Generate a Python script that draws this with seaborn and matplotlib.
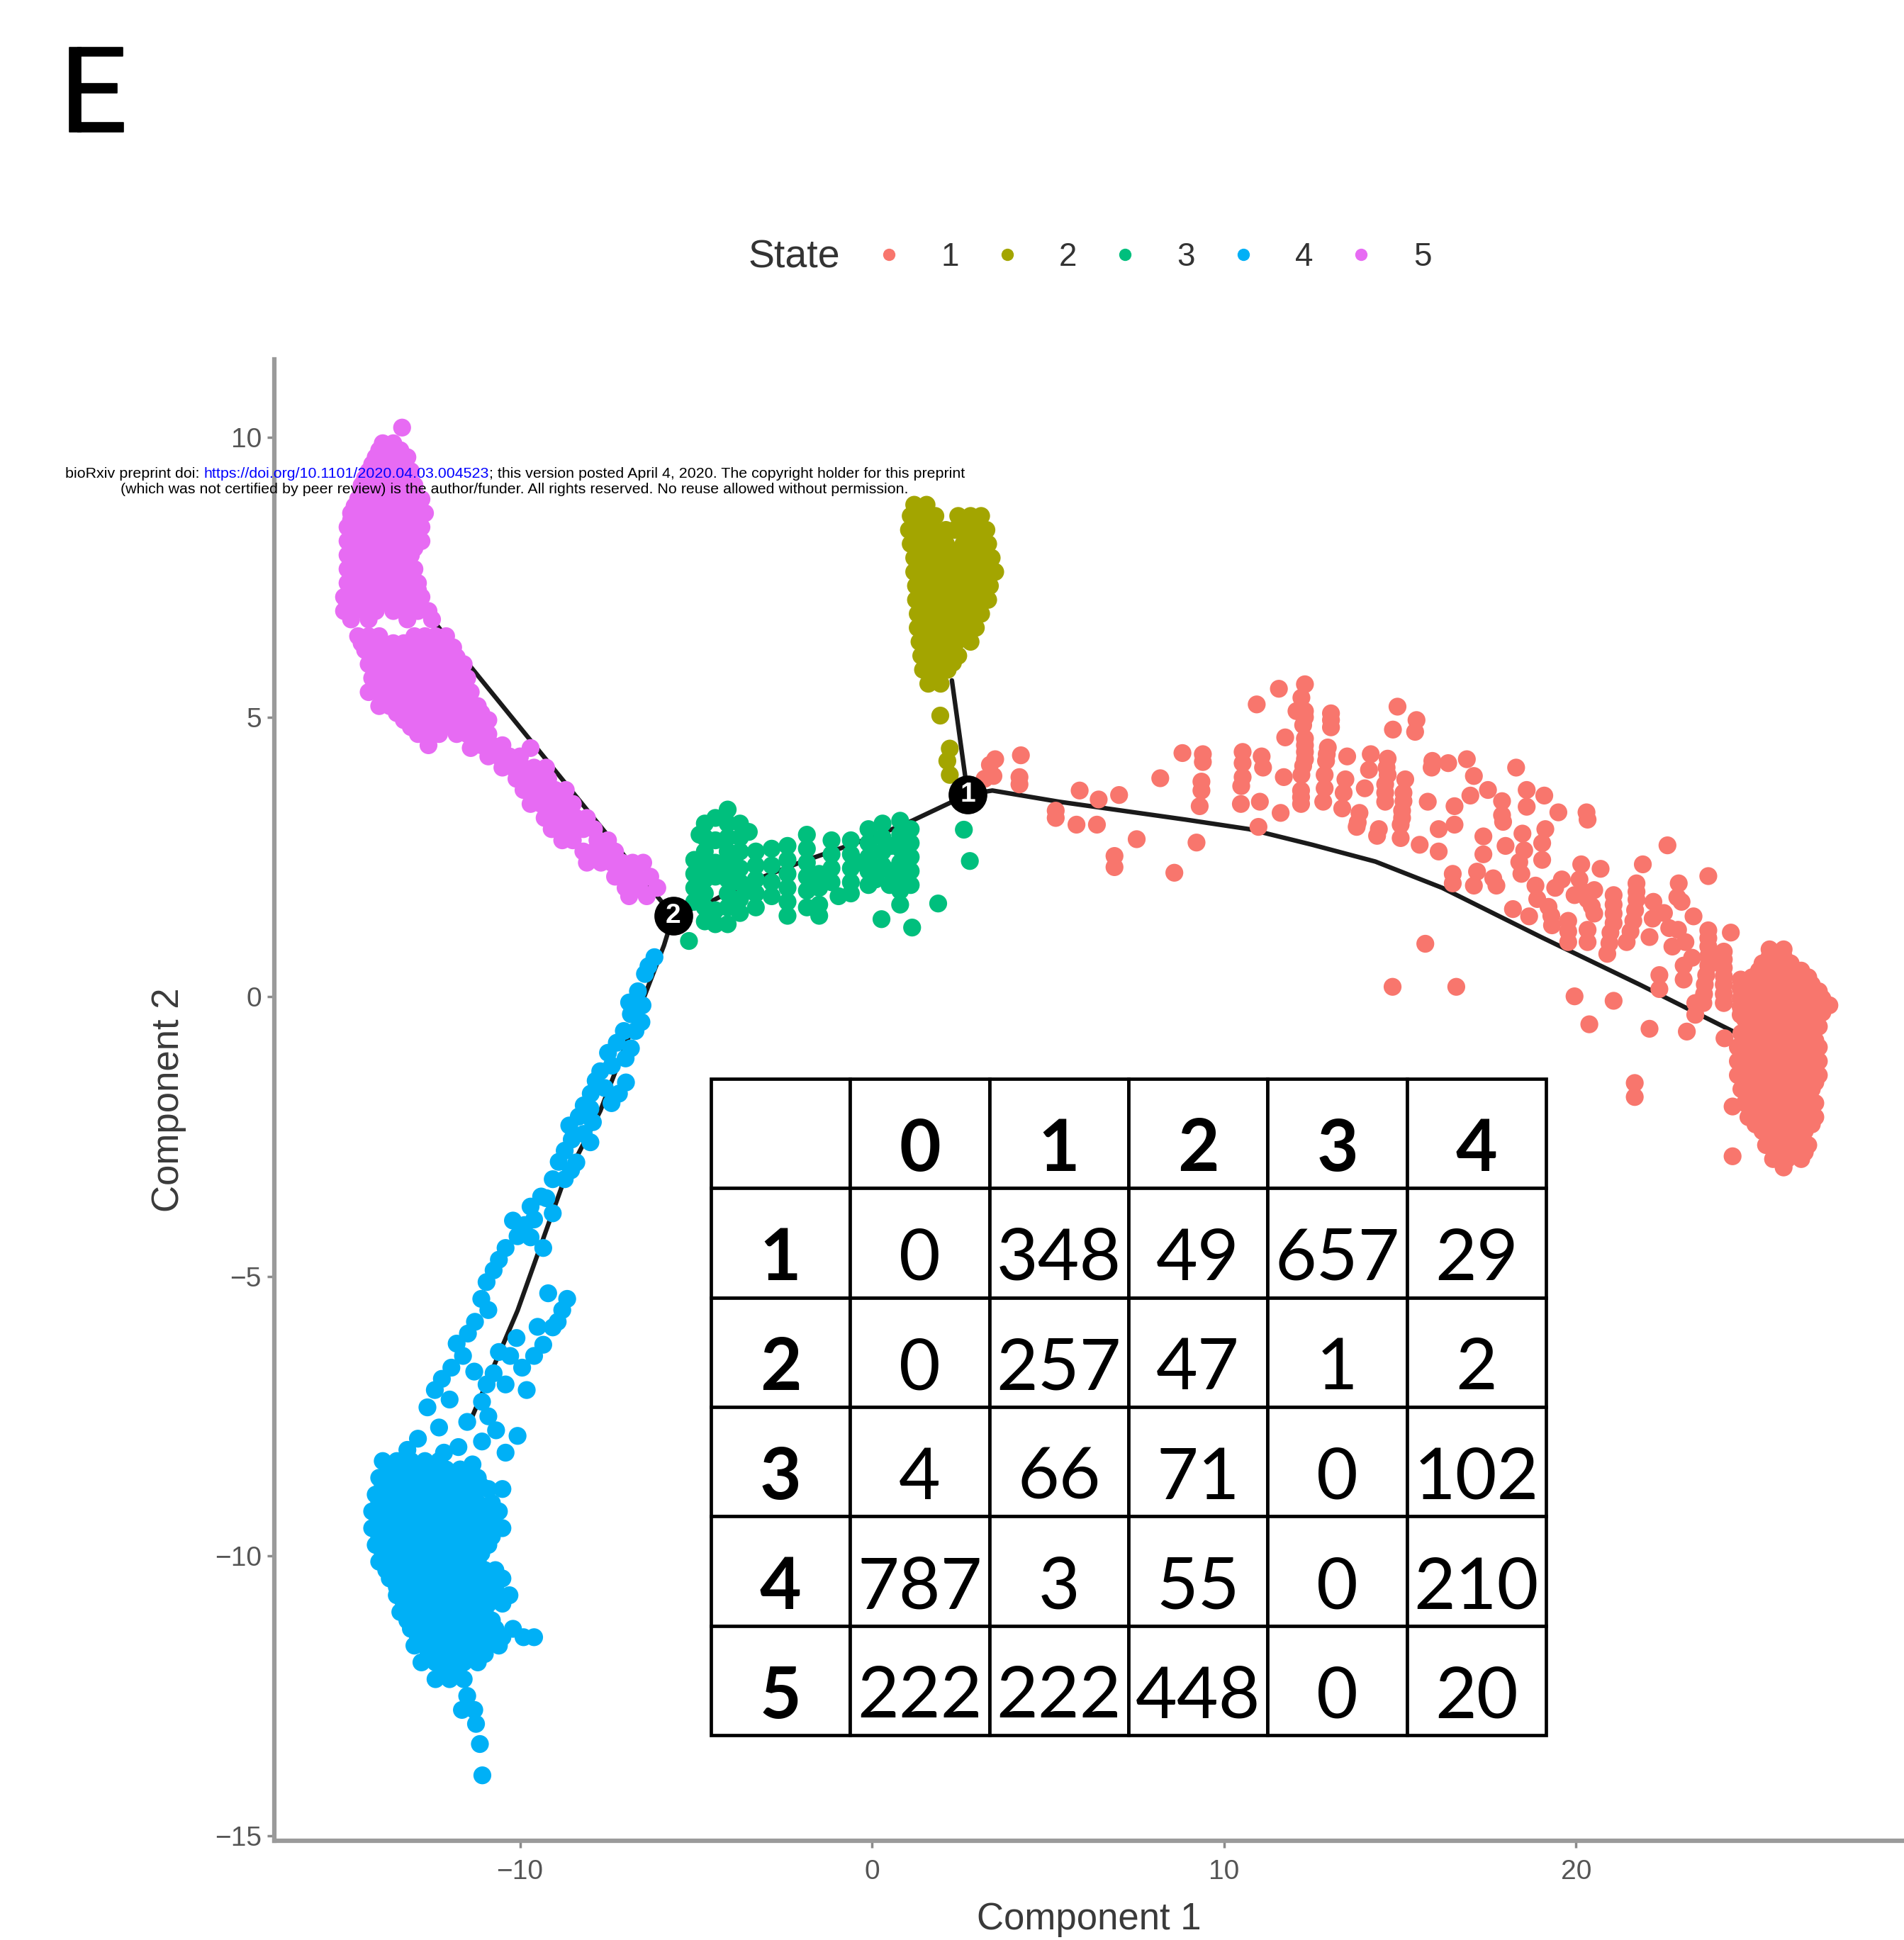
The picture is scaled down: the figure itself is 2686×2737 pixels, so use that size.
import matplotlib
matplotlib.use("Agg")
import matplotlib.pyplot as plt
from matplotlib.lines import Line2D
from matplotlib.transforms import Affine2D
import matplotlib.patheffects as pe
import pandas as pd
import seaborn as sns

# ------------------------------------------------------------------ data
state_labels = ["1", "2", "3", "4", "5"]
state_colors = ["#F8766D", "#A3A500", "#00BF7D", "#00B0F6", "#E76BF3"]

state1_xy = [
    (3.2, 3.9), (3.35, 4.15), (3.5, 4.25), (3.45, 3.95),
    (4.23, 4.32), (4.19, 3.93), (4.19, 3.8), (5.22, 3.33), (5.22, 3.2),
    (5.9, 3.69), (6.44, 3.53), (7.02, 3.61), (5.81, 3.08), (6.39, 3.08),
    (7.52, 2.82), (6.89, 2.52), (6.89, 2.32), (8.59, 2.22), (8.19, 3.91),
    (8.82, 4.36), (9.40, 4.34), (9.40, 4.2), (9.36, 3.85), (9.36, 3.69),
    (9.31, 3.41), (9.22, 2.76), (10.53, 4.38), (10.53, 4.18), (10.53, 3.93),
    (10.49, 3.77), (10.48, 3.45), (11.07, 4.30), (11.11, 4.10), (11.02, 3.49),
    (10.98, 3.04), (10.93, 5.23), (11.56, 5.51), (11.7, 3.93), (11.61, 3.29),
    (11.74, 4.64), (12.3, 5.59), (12.2, 5.35), (12.3, 5.11), (12.25, 4.86),
    (12.3, 4.62), (12.3, 4.38), (12.25, 4.13), (12.2, 3.97), (12.06, 5.11),
    (12.19, 3.69), (12.19, 3.45), (13.04, 5.07), (13.04, 4.82), (12.95, 4.46),
    (12.9, 4.22), (12.86, 3.97), (12.86, 3.73), (12.82, 3.49), (13.5, 4.30),
    (13.45, 3.89), (13.4, 3.65), (13.36, 3.37), (14.17, 4.34), (14.12, 4.06),
    (14.0, 3.73), (13.85, 3.29), (13.8, 3.12), (14.65, 4.26), (14.65, 3.97),
    (14.58, 3.65), (14.58, 3.49), (14.4, 3.0), (14.35, 2.88), (14.93, 5.19),
    (14.8, 4.78), (15.47, 4.95), (15.43, 4.74), (15.15, 3.89), (15.1, 3.65),
    (15.06, 3.33), (15.02, 3.08), (15.02, 2.84), (15.79, 3.49), (15.56, 2.72),
    (15.92, 4.22), (15.9, 4.1), (16.37, 4.18), (16.1, 3.0), (16.1, 2.6),
    (16.55, 3.41), (16.55, 3.08), (16.5, 2.2), (16.5, 2.03),
    (15.72, 0.95), (14.79, 0.18), (16.6, 0.18),
    (16.9, 4.25), (17.1, 3.95), (17.0, 3.6), (17.5, 3.7), (17.9, 3.5),
    (17.9, 3.25), (18.3, 4.1), (18.6, 3.7), (18.6, 3.4), (19.1, 3.6),
    (19.5, 3.3), (20.3, 3.3),
    (13.77, 3.04), (17.37, 2.87), (17.93, 3.13), (18.48, 2.92), (18.53, 2.62),
    (18.39, 2.41), (19.04, 2.75), (19.04, 2.45), (19.13, 3.0), (20.33, 3.17),
    (22.6, 2.71), (20.15, 2.37), (20.7, 2.29), (21.9, 2.37), (23.76, 2.16),
    (17.19, 2.24), (17.1, 1.99), (17.65, 2.12), (17.74, 1.99),
    (18.85, 1.99), (19.41, 1.95), (19.96, 1.82), (20.52, 1.91),
    (18.21, 1.57), (18.67, 1.44), (19.22, 1.61), (19.32, 1.28), (19.78, 1.36),
    (19.78, 0.98), (20.33, 1.74), (20.52, 1.49), (20.33, 0.98),
    (21.07, 1.82), (21.07, 1.49), (20.98, 1.15), (20.89, 0.77),
    (21.72, 2.03), (21.72, 1.74), (21.63, 1.36), (21.44, 0.98),
    (22.18, 1.40), (22.09, 1.07), (22.65, 1.23), (22.74, 0.9), (23.11, 0.98),
    (22.92, 2.03), (22.88, 1.78), (23.34, 1.44),
    (23.76, 1.19), (23.76, 0.9), (23.76, 0.56), (23.66, 0.22), (23.62, -0.11),
    (24.2, 0.81), (24.2, 0.52), (24.2, 0.22), (24.2, -0.11), (24.4, 1.15),
    (23.06, 0.56), (23.06, 0.31), (22.37, 0.39), (22.37, 0.14),
    (23.39, -0.11), (23.39, -0.32), (24.68, 0.31), (24.68, -0.03), (24.68, -0.32),
    (24.22, -0.74), (23.15, -0.62), (22.09, -0.57), (21.07, -0.07), (19.96, 0.01),
    (20.38, -0.49), (21.67, -1.54), (21.67, -1.79), (24.45, -1.96), (24.45, -2.85),
    # fill inside the stripes of the arc
    (21.07, 1.65), (21.07, 1.32), (20.95, 0.96), (21.72, 1.88), (21.68, 1.55),
    (21.55, 1.17), (23.76, 1.05), (23.76, 0.73), (23.7, 0.39), (23.64, 0.05),
    (24.2, 0.67), (24.2, 0.37), (24.2, 0.05), (24.68, 0.15), (24.68, -0.18),
    (20.33, 1.86), (20.45, 1.62), (20.33, 1.2), (19.78, 1.17), (19.3, 1.45),
    (17.37, 2.55), (18.0, 2.7), (18.45, 2.2), (18.9, 1.75), (19.6, 2.1),
    (20.1, 2.1), (22.2, 1.7), (22.5, 1.5), (22.9, 1.2), (23.3, 0.7), (23.0, 1.7),
    (12.3, 5.0), (12.3, 4.5), (12.3, 4.25), (13.04, 4.95), (12.92, 4.34),
    (14.62, 4.1), (14.58, 3.8), (15.1, 3.5), (15.06, 3.2), (12.19, 3.57),
    # dense end cluster
    (25.5, 0.85), (25.9, 0.85),
    (25.3, 0.6), (25.7, 0.6), (26.1, 0.6),
    (25.0, 0.35), (25.4, 0.35), (25.8, 0.35), (26.2, 0.35), (26.6, 0.35),
    (24.9, 0.1), (25.3, 0.1), (25.7, 0.1), (26.1, 0.1), (26.5, 0.1), (26.9, 0.1),
    (24.8, -0.15), (25.2, -0.15), (25.6, -0.15), (26.0, -0.15), (26.4, -0.15), (26.8, -0.15), (27.2, -0.15),
    (24.8, -0.4), (25.2, -0.4), (25.6, -0.4), (26.0, -0.4), (26.4, -0.4), (26.8, -0.4),
    (24.7, -0.65), (25.1, -0.65), (25.5, -0.65), (25.9, -0.65), (26.3, -0.65), (26.7, -0.65),
    (24.6, -0.9), (25.0, -0.9), (25.4, -0.9), (25.8, -0.9), (26.2, -0.9), (26.6, -0.9), (26.9, -0.9),
    (24.6, -1.15), (25.0, -1.15), (25.4, -1.15), (25.8, -1.15), (26.2, -1.15), (26.6, -1.15), (26.9, -1.15),
    (24.6, -1.4), (25.0, -1.4), (25.4, -1.4), (25.8, -1.4), (26.2, -1.4), (26.6, -1.4), (26.9, -1.4),
    (24.7, -1.65), (25.1, -1.65), (25.5, -1.65), (25.9, -1.65), (26.3, -1.65), (26.7, -1.65),
    (24.8, -1.9), (25.2, -1.9), (25.6, -1.9), (26.0, -1.9), (26.4, -1.9), (26.8, -1.9),
    (24.9, -2.15), (25.3, -2.15), (25.7, -2.15), (26.1, -2.15), (26.5, -2.15), (26.8, -2.15),
    (25.3, -2.4), (25.7, -2.4), (26.1, -2.4), (26.5, -2.4),
    (25.4, -2.65), (25.8, -2.65), (26.2, -2.65), (26.6, -2.65),
    (25.6, -2.9), (26.0, -2.9), (26.4, -2.9), (25.9, -3.05),
    (25.5, 0.72), (25.9, 0.72),
    (25.2, 0.47), (25.6, 0.47), (26.0, 0.47), (26.4, 0.47),
    (25.1, 0.22), (25.5, 0.22), (25.9, 0.22), (26.3, 0.22), (26.7, 0.22),
    (25.0, -0.03), (25.4, -0.03), (25.8, -0.03), (26.2, -0.03), (26.6, -0.03), (27.0, -0.03),
    (25.0, -0.28), (25.4, -0.28), (25.8, -0.28), (26.2, -0.28), (26.6, -0.28), (27.0, -0.28),
    (24.9, -0.53), (25.3, -0.53), (25.7, -0.53), (26.1, -0.53), (26.5, -0.53), (26.9, -0.53),
    (24.8, -0.78), (25.2, -0.78), (25.6, -0.78), (26.0, -0.78), (26.4, -0.78), (26.8, -0.78),
    (24.8, -1.03), (25.2, -1.03), (25.6, -1.03), (26.0, -1.03), (26.4, -1.03), (26.8, -1.03),
    (24.8, -1.28), (25.2, -1.28), (25.6, -1.28), (26.0, -1.28), (26.4, -1.28), (26.8, -1.28),
    (24.8, -1.53), (25.2, -1.53), (25.6, -1.53), (26.0, -1.53), (26.4, -1.53), (26.8, -1.53),
    (24.9, -1.78), (25.3, -1.78), (25.7, -1.78), (26.1, -1.78), (26.5, -1.78),
    (25.0, -2.03), (25.4, -2.03), (25.8, -2.03), (26.2, -2.03), (26.6, -2.03),
    (25.1, -2.28), (25.5, -2.28), (25.9, -2.28), (26.3, -2.28), (26.7, -2.28),
    (25.5, -2.53), (25.9, -2.53), (26.3, -2.53),
    (25.7, -2.78), (26.1, -2.78), (26.5, -2.78),
]

state2_xy = [
    (1.2, 8.8), (1.55, 8.8),
    (1.1, 8.6), (1.45, 8.6), (1.8, 8.6), (2.45, 8.6), (2.8, 8.6), (3.1, 8.6),
    (1.05, 8.35), (1.4, 8.35), (1.75, 8.35), (2.1, 8.35), (2.35, 8.35), (2.95, 8.35), (3.25, 8.35),
    (1.1, 8.1), (1.45, 8.1), (1.8, 8.1), (2.1, 8.1), (2.6, 8.1), (2.9, 8.1), (3.3, 8.1),
    (1.2, 7.85), (1.5, 7.85), (1.85, 7.85), (2.2, 7.85), (2.5, 7.85), (2.8, 7.85), (3.15, 7.85), (3.4, 7.85),
    (1.2, 7.6), (1.55, 7.6), (1.9, 7.6), (2.25, 7.6), (2.6, 7.6), (2.95, 7.6), (3.3, 7.6), (3.5, 7.6),
    (1.25, 7.35), (1.6, 7.35), (1.95, 7.35), (2.3, 7.35), (2.65, 7.35), (3.0, 7.35), (3.35, 7.35),
    (1.25, 7.1), (1.6, 7.1), (1.95, 7.1), (2.3, 7.1), (2.65, 7.1), (3.0, 7.1), (3.3, 7.1),
    (1.3, 6.85), (1.65, 6.85), (2.0, 6.85), (2.35, 6.85), (2.7, 6.85), (3.1, 6.85),
    (1.3, 6.6), (1.65, 6.6), (2.0, 6.6), (2.35, 6.6), (2.7, 6.6), (2.95, 6.6),
    (1.35, 6.35), (1.7, 6.35), (2.05, 6.35), (2.4, 6.35), (2.8, 6.35),
    (1.4, 6.1), (1.75, 6.1), (2.1, 6.1), (2.45, 6.1),
    (1.45, 5.85), (1.8, 5.85), (2.15, 5.85),
    (1.6, 5.6), (1.95, 5.6),
    (1.94, 5.03), (2.21, 4.44), (2.14, 4.22), (2.21, 3.97),
    (1.25, 8.475), (1.6, 8.475), (2.6, 8.475), (2.95, 8.475),
    (1.25, 8.225), (1.6, 8.225), (1.95, 8.225), (2.75, 8.225), (3.1, 8.225),
    (1.3, 7.975), (1.65, 7.975), (2.0, 7.975), (2.35, 7.975), (2.75, 7.975), (3.1, 7.975),
    (1.35, 7.725), (1.7, 7.725), (2.05, 7.725), (2.4, 7.725), (2.7, 7.725), (3.0, 7.725), (3.3, 7.725),
    (1.4, 7.475), (1.75, 7.475), (2.1, 7.475), (2.45, 7.475), (2.8, 7.475), (3.15, 7.475),
    (1.4, 7.225), (1.75, 7.225), (2.1, 7.225), (2.45, 7.225), (2.8, 7.225), (3.15, 7.225),
    (1.45, 6.975), (1.8, 6.975), (2.15, 6.975), (2.5, 6.975), (2.9, 6.975),
    (1.45, 6.725), (1.8, 6.725), (2.15, 6.725), (2.5, 6.725), (2.85, 6.725),
    (1.5, 6.475), (1.85, 6.475), (2.2, 6.475), (2.6, 6.475),
    (1.55, 6.225), (1.9, 6.225), (2.25, 6.225),
    (1.6, 5.975), (1.95, 5.975), (2.3, 5.975), (1.75, 5.725),
]

state3_xy = [
    (-5.2, 1.0),
    (-5.05, 2.45), (-5.05, 2.2), (-5.05, 1.95), (-5.05, 1.7),
    (-4.75, 3.1), (-4.75, 2.85), (-4.75, 2.6), (-4.75, 2.35), (-4.75, 2.1),
    (-4.75, 1.85), (-4.75, 1.6), (-4.75, 1.35),
    (-4.45, 2.4), (-4.45, 2.15), (-4.45, 1.55), (-4.45, 1.3),
    (-4.1, 3.35), (-4.1, 3.1), (-4.1, 2.85), (-4.1, 2.6), (-4.1, 2.35),
    (-4.1, 2.1), (-4.1, 1.85), (-4.1, 1.6), (-4.1, 1.3),
    (-3.75, 3.1), (-3.75, 2.85), (-3.75, 2.6), (-3.75, 2.3), (-3.75, 2.05),
    (-3.75, 1.75), (-3.75, 1.5),
    (-3.3, 2.6), (-3.3, 2.35), (-3.3, 2.1), (-3.3, 1.85), (-3.3, 1.6),
    (-2.85, 2.65), (-2.85, 2.35), (-2.85, 2.05), (-2.85, 1.8),
    (-2.4, 2.7), (-2.4, 2.45), (-2.4, 2.2), (-2.4, 1.95), (-2.4, 1.7), (-2.4, 1.45),
    (-1.85, 2.9), (-1.85, 2.65), (-1.85, 2.4), (-1.85, 2.15), (-1.85, 1.9), (-1.85, 1.6),
    (-1.5, 2.2), (-1.5, 1.95), (-1.5, 1.65), (-1.5, 1.45),
    (-1.15, 2.8), (-1.15, 2.55), (-1.15, 2.3), (-1.15, 2.05), (-0.95, 1.8),
    (-0.6, 2.8), (-0.6, 2.55), (-0.6, 2.3), (-0.6, 2.05), (-0.6, 1.85),
    (-0.1, 3.0), (-0.1, 2.75), (-0.1, 2.5), (-0.1, 2.25), (-0.1, 2.0),
    (0.3, 3.1), (0.3, 2.85), (0.3, 2.6), (0.3, 2.35), (0.5, 2.25), (0.5, 2.0),
    (0.8, 3.15), (0.8, 2.9), (0.8, 2.65), (0.8, 2.4), (0.8, 2.15), (0.8, 1.9), (0.8, 1.65),
    (1.1, 3.0), (1.1, 2.75), (1.1, 2.5), (1.1, 2.25), (1.1, 2.0),
    (2.61, 2.99), (2.78, 2.43), (1.88, 1.67), (0.27, 1.39), (1.14, 1.24),
    (-4.9, 2.9), (-4.45, 3.2), (-4.45, 2.8), (-3.95, 2.45), (-3.5, 2.95),
    (-3.5, 1.9), (-0.3, 2.4), (0.1, 2.1), (0.55, 2.7), (0.95, 2.2),
]

state4_xy = [
    (-6.18, 0.71), (-6.45, 0.41), (-6.65, 0.10), (-6.52, -0.15), (-6.85, -0.31),
    (-7.05, -0.61), (-6.72, -0.61), (-7.25, -0.82), (-6.85, -0.92), (-7.39, -1.23),
    (-6.99, -1.53), (-7.19, -1.73), (-7.72, -1.33), (-7.99, -1.73), (-8.19, -1.94),
    (-7.59, -1.63), (-8.33, -2.14), (-7.93, -2.24), (-8.53, -2.55), (-8.73, -2.75),
    (-8.19, -2.45), (-8.40, -2.96), (-8.73, -3.26), (-9.07, -3.26), (-9.40, -3.57),
    (-9.6, -3.98), (-9.87, -4.08), (-10.07, -4.28), (-10.41, -4.49), (-10.75, -4.89),
    (-10.95, -5.1), (-9.07, -3.87), (-9.34, -4.49), (-11.28, -5.81), (-11.48, -6.02),
    (-8.66, -5.4), (-8.93, -5.81), (-9.2, -5.3), (-9.07, -5.91), (-9.34, -6.22),
    (-9.6, -6.42), (-9.94, -6.63), (-10.28, -6.42), (-9.81, -7.03), (-10.41, -6.93),
    (-10.75, -6.73), (-10.95, -6.93), (-11.08, -7.24), (-11.62, -6.42), (-11.95, -6.63),
    (-12.22, -6.83), (-12.42, -7.03), (-12.63, -7.34), (-10.68, -7.75), (-10.07, -7.85),
    (-10.41, -8.15), (-11.08, -7.95), (-11.35, -8.36), (-11.75, -8.05), (-12.16, -8.15),
    (-12.42, -8.46), (-12.69, -8.56), (-13.1, -8.36), (-13.43, -8.56),
    (-6.35, 0.55), (-6.9, -0.1), (-6.55, -0.45), (-7.5, -1.0), (-7.0, -1.1),
    (-7.85, -1.5), (-7.4, -1.9), (-8.0, -2.0), (-8.6, -2.3), (-8.0, -2.6),
    (-8.9, -2.95), (-8.55, -3.1), (-9.25, -3.6), (-9.7, -3.75), (-10.2, -4.0),
    (-10.6, -4.7), (-9.7, -4.3), (-11.1, -5.4), (-10.9, -5.6), (-11.8, -6.2),
    (-8.8, -5.6), (-9.5, -5.9), (-10.1, -6.1), (-10.6, -6.35), (-11.3, -6.7),
    (-12.0, -7.2), (-11.5, -7.6), (-10.9, -7.5), (-12.3, -7.7), (-12.9, -7.9),
    (-13.2, -8.1),
    # dense blob
    (-13.9, -8.3), (-13.5, -8.3), (-13.1, -8.3), (-12.7, -8.3), (-12.3, -8.3),
    (-14.0, -8.6), (-13.6, -8.6), (-13.2, -8.6), (-12.8, -8.6), (-12.4, -8.6),
    (-12.0, -8.6), (-11.6, -8.6), (-11.2, -8.6), (-10.9, -8.8), (-10.5, -8.8),
    (-14.1, -8.9), (-13.7, -8.9), (-13.3, -8.9), (-12.9, -8.9), (-12.5, -8.9),
    (-12.1, -8.9), (-11.7, -8.9), (-11.3, -8.9),
    (-14.2, -9.2), (-13.8, -9.2), (-13.4, -9.2), (-13.0, -9.2), (-12.6, -9.2),
    (-12.2, -9.2), (-11.8, -9.2), (-11.4, -9.2), (-11.0, -9.2), (-10.6, -9.2),
    (-14.2, -9.5), (-13.8, -9.5), (-13.4, -9.5), (-13.0, -9.5), (-12.6, -9.5),
    (-12.2, -9.5), (-11.8, -9.5), (-11.4, -9.5), (-11.0, -9.5), (-10.5, -9.5),
    (-14.1, -9.8), (-13.7, -9.8), (-13.3, -9.8), (-12.9, -9.8), (-12.5, -9.8),
    (-12.1, -9.8), (-11.7, -9.8), (-11.3, -9.8), (-10.9, -9.8),
    (-14.0, -10.1), (-13.6, -10.1), (-13.2, -10.1), (-12.8, -10.1), (-12.4, -10.1),
    (-12.0, -10.1), (-11.6, -10.1), (-11.2, -10.1),
    (-13.7, -10.4), (-13.3, -10.4), (-12.9, -10.4), (-12.5, -10.4), (-12.1, -10.4),
    (-11.7, -10.4), (-11.3, -10.4), (-10.9, -10.4), (-10.5, -10.4),
    (-13.5, -10.7), (-13.1, -10.7), (-12.7, -10.7), (-12.3, -10.7), (-11.9, -10.7),
    (-11.5, -10.7), (-11.1, -10.7), (-10.7, -10.7), (-10.3, -10.7),
    (-13.4, -11.0), (-13.0, -11.0), (-12.6, -11.0), (-12.2, -11.0), (-11.8, -11.0),
    (-11.4, -11.0), (-11.0, -11.0),
    (-13.1, -11.3), (-12.7, -11.3), (-12.3, -11.3), (-11.9, -11.3), (-11.5, -11.3),
    (-11.1, -11.3), (-10.7, -11.3), (-10.2, -11.3), (-9.9, -11.45), (-9.6, -11.45),
    (-13.0, -11.6), (-12.6, -11.6), (-12.2, -11.6), (-11.8, -11.6), (-11.4, -11.6),
    (-11.0, -11.6), (-10.6, -11.6),
    (-12.8, -11.9), (-12.4, -11.9), (-12.0, -11.9), (-11.6, -11.9), (-11.2, -11.9),
    (-12.4, -12.2), (-12.0, -12.2), (-11.6, -12.2),
    (-11.5, -12.5), (-11.65, -12.75), (-11.3, -12.75), (-11.25, -13.0),
    (-11.14, -13.36), (-11.07, -13.92),
    (-13.7, -8.45), (-13.3, -8.45), (-12.9, -8.45), (-12.5, -8.45), (-12.1, -8.45), (-11.7, -8.45),
    (-13.9, -8.75), (-13.5, -8.75), (-13.1, -8.75), (-12.7, -8.75), (-12.3, -8.75),
    (-11.9, -8.75), (-11.5, -8.75), (-11.1, -8.75),
    (-14.0, -9.05), (-13.6, -9.05), (-13.2, -9.05), (-12.8, -9.05), (-12.4, -9.05),
    (-12.0, -9.05), (-11.6, -9.05), (-11.2, -9.05), (-10.8, -9.05),
    (-14.0, -9.35), (-13.6, -9.35), (-13.2, -9.35), (-12.8, -9.35), (-12.4, -9.35),
    (-12.0, -9.35), (-11.6, -9.35), (-11.2, -9.35), (-10.8, -9.35),
    (-14.0, -9.65), (-13.6, -9.65), (-13.2, -9.65), (-12.8, -9.65), (-12.4, -9.65),
    (-12.0, -9.65), (-11.6, -9.65), (-11.2, -9.65), (-10.8, -9.65),
    (-13.9, -9.95), (-13.5, -9.95), (-13.1, -9.95), (-12.7, -9.95), (-12.3, -9.95),
    (-11.9, -9.95), (-11.5, -9.95), (-11.1, -9.95),
    (-13.8, -10.25), (-13.4, -10.25), (-13.0, -10.25), (-12.6, -10.25), (-12.2, -10.25),
    (-11.8, -10.25), (-11.4, -10.25), (-11.0, -10.25), (-10.7, -10.25),
    (-13.5, -10.55), (-13.1, -10.55), (-12.7, -10.55), (-12.3, -10.55), (-11.9, -10.55),
    (-11.5, -10.55), (-11.1, -10.55), (-10.7, -10.55),
    (-13.3, -10.85), (-12.9, -10.85), (-12.5, -10.85), (-12.1, -10.85), (-11.7, -10.85),
    (-11.3, -10.85), (-10.9, -10.85), (-10.5, -10.85),
    (-13.2, -11.15), (-12.8, -11.15), (-12.4, -11.15), (-12.0, -11.15), (-11.6, -11.15),
    (-11.2, -11.15), (-10.8, -11.15),
    (-12.9, -11.45), (-12.5, -11.45), (-12.1, -11.45), (-11.7, -11.45), (-11.3, -11.45),
    (-10.9, -11.45), (-10.5, -11.45),
    (-12.6, -11.75), (-12.2, -11.75), (-11.8, -11.75), (-11.4, -11.75), (-11.0, -11.75),
    (-12.2, -12.05), (-11.8, -12.05),
]

state5_xy = [
    (-13.35, 10.18),
    (-13.9, 9.9), (-13.6, 9.9),
    (-14.1, 9.65), (-13.8, 9.65), (-13.5, 9.65), (-13.2, 9.65),
    (-14.3, 9.4), (-14.0, 9.4), (-13.7, 9.4), (-13.4, 9.4), (-13.1, 9.4),
    (-14.5, 9.15), (-14.2, 9.15), (-13.9, 9.15), (-13.6, 9.15), (-13.3, 9.15), (-13.0, 9.15),
    (-14.6, 8.9), (-14.3, 8.9), (-14.0, 8.9), (-13.7, 8.9), (-13.4, 8.9), (-13.1, 8.9), (-12.8, 8.9),
    (-14.8, 8.65), (-14.5, 8.65), (-14.2, 8.65), (-13.9, 8.65), (-13.6, 8.65), (-13.3, 8.65),
    (-13.0, 8.65), (-12.7, 8.65),
    (-14.9, 8.4), (-14.6, 8.4), (-14.3, 8.4), (-14.0, 8.4), (-13.7, 8.4), (-13.4, 8.4),
    (-13.1, 8.4), (-12.8, 8.4),
    (-14.9, 8.15), (-14.6, 8.15), (-14.3, 8.15), (-14.0, 8.15), (-13.7, 8.15), (-13.4, 8.15),
    (-13.1, 8.15), (-12.8, 8.15),
    (-14.9, 7.9), (-14.6, 7.9), (-14.3, 7.9), (-14.0, 7.9), (-13.7, 7.9), (-13.4, 7.9), (-13.1, 7.9),
    (-14.9, 7.65), (-14.6, 7.65), (-14.3, 7.65), (-14.0, 7.65), (-13.7, 7.65), (-13.4, 7.65), (-13.0, 7.65),
    (-14.9, 7.4), (-14.6, 7.4), (-14.3, 7.4), (-14.0, 7.4), (-13.7, 7.4), (-13.3, 7.4), (-12.9, 7.4),
    (-15.0, 7.15), (-14.7, 7.15), (-14.4, 7.15), (-14.1, 7.15), (-13.8, 7.15), (-13.5, 7.15),
    (-13.1, 7.15), (-12.8, 7.15),
    (-15.0, 6.9), (-14.7, 6.9), (-14.4, 6.9), (-14.1, 6.9), (-13.6, 6.9), (-13.3, 6.9),
    (-12.9, 6.9), (-12.6, 6.9),
    (-14.8, 6.75), (-14.3, 6.75), (-13.2, 6.75), (-12.5, 6.75),
    (-14.6, 6.45), (-14.3, 6.45), (-14.0, 6.45), (-13.0, 6.45), (-12.7, 6.45), (-12.4, 6.45),
    (-12.1, 6.45), (-11.9, 6.25),
    (-14.4, 6.2), (-14.1, 6.2), (-13.8, 6.2), (-13.5, 6.2), (-13.2, 6.2), (-12.9, 6.2),
    (-12.6, 6.2), (-12.3, 6.2), (-12.0, 6.2),
    (-14.3, 5.95), (-14.0, 5.95), (-13.7, 5.95), (-13.4, 5.95), (-13.1, 5.95), (-12.8, 5.95),
    (-12.5, 5.95), (-12.2, 5.95), (-11.9, 5.95), (-11.6, 5.95),
    (-14.2, 5.7), (-13.9, 5.7), (-13.6, 5.7), (-13.3, 5.7), (-13.0, 5.7), (-12.7, 5.7),
    (-12.4, 5.7), (-12.1, 5.7), (-11.8, 5.7), (-11.5, 5.7),
    (-14.3, 5.45), (-13.9, 5.45), (-13.6, 5.45), (-13.3, 5.45), (-13.0, 5.45), (-12.7, 5.45),
    (-12.4, 5.45), (-12.1, 5.45), (-11.8, 5.45), (-11.4, 5.45),
    (-14.0, 5.2), (-13.7, 5.2), (-13.4, 5.2), (-13.1, 5.2), (-12.8, 5.2), (-12.5, 5.2),
    (-12.2, 5.2), (-11.9, 5.2), (-11.6, 5.2), (-11.2, 5.2),
    (-13.3, 4.95), (-13.0, 4.95), (-12.7, 4.95), (-12.4, 4.95), (-12.1, 4.95), (-11.8, 4.95),
    (-11.5, 4.95), (-11.2, 4.95), (-10.9, 4.95),
    (-12.9, 4.7), (-12.6, 4.7), (-12.3, 4.7), (-11.8, 4.7), (-11.5, 4.7), (-11.2, 4.7), (-10.9, 4.7),
    (-12.6, 4.5), (-11.4, 4.45), (-11.1, 4.5), (-10.8, 4.5), (-10.5, 4.5),
    (-10.9, 4.3), (-10.6, 4.3), (-10.3, 4.3), (-10.0, 4.3), (-9.7, 4.45),
    (-10.5, 4.1), (-10.2, 4.1), (-9.9, 4.1), (-9.6, 4.1), (-9.26, 4.1),
    (-10.1, 3.9), (-9.8, 3.9), (-9.5, 3.9), (-9.2, 3.9),
    (-9.9, 3.7), (-9.6, 3.7), (-9.3, 3.7), (-9.0, 3.7), (-8.7, 3.7),
    (-9.7, 3.45), (-9.4, 3.45), (-9.1, 3.45), (-8.8, 3.45), (-8.5, 3.45),
    (-9.3, 3.2), (-9.0, 3.2), (-8.7, 3.2), (-8.4, 3.2), (-8.1, 3.2),
    (-9.1, 3.0), (-8.8, 3.0), (-8.5, 3.0), (-8.2, 3.0), (-7.9, 3.0),
    (-8.8, 2.8), (-8.5, 2.8), (-7.8, 2.8), (-7.5, 2.8),
    (-8.2, 2.6), (-7.9, 2.6), (-7.6, 2.6), (-7.3, 2.6),
    (-8.1, 2.4), (-7.7, 2.4), (-7.4, 2.4), (-7.1, 2.4), (-6.8, 2.4), (-6.5, 2.4),
    (-7.3, 2.15), (-7.0, 2.15), (-6.7, 2.15), (-6.3, 2.15),
    (-7.0, 1.95), (-6.6, 1.95), (-6.1, 1.95),
    (-6.9, 1.8), (-6.4, 1.8),
    (-14.0, 9.775), (-13.7, 9.775), (-13.4, 9.775),
    (-14.2, 9.525), (-13.9, 9.525), (-13.6, 9.525), (-13.3, 9.525),
    (-14.4, 9.275), (-14.1, 9.275), (-13.8, 9.275), (-13.5, 9.275), (-13.2, 9.275),
    (-14.5, 9.025), (-14.2, 9.025), (-13.9, 9.025), (-13.6, 9.025), (-13.3, 9.025), (-13.0, 9.025),
    (-14.7, 8.775), (-14.4, 8.775), (-14.1, 8.775), (-13.8, 8.775), (-13.5, 8.775), (-13.2, 8.775), (-12.9, 8.775),
    (-14.8, 8.525), (-14.5, 8.525), (-14.2, 8.525), (-13.9, 8.525), (-13.6, 8.525), (-13.3, 8.525), (-13.0, 8.525),
    (-14.8, 8.275), (-14.5, 8.275), (-14.2, 8.275), (-13.9, 8.275), (-13.6, 8.275), (-13.3, 8.275), (-13.0, 8.275),
    (-14.8, 8.025), (-14.5, 8.025), (-14.2, 8.025), (-13.9, 8.025), (-13.6, 8.025), (-13.3, 8.025), (-13.0, 8.025),
    (-14.8, 7.775), (-14.5, 7.775), (-14.2, 7.775), (-13.9, 7.775), (-13.6, 7.775), (-13.3, 7.775),
    (-14.8, 7.525), (-14.5, 7.525), (-14.2, 7.525), (-13.9, 7.525), (-13.6, 7.525), (-13.2, 7.525),
    (-14.8, 7.275), (-14.5, 7.275), (-14.2, 7.275), (-13.9, 7.275), (-13.6, 7.275), (-13.2, 7.275), (-12.9, 7.275),
    (-14.9, 7.025), (-14.6, 7.025), (-14.3, 7.025), (-14.0, 7.025), (-13.7, 7.025), (-13.3, 7.025), (-12.9, 7.025),
    (-14.5, 6.325), (-14.2, 6.325), (-13.9, 6.325), (-13.6, 6.325), (-13.3, 6.325), (-13.0, 6.325),
    (-12.7, 6.325), (-12.4, 6.325), (-12.1, 6.325),
    (-14.2, 6.075), (-13.9, 6.075), (-13.6, 6.075), (-13.3, 6.075), (-13.0, 6.075), (-12.7, 6.075),
    (-12.4, 6.075), (-12.1, 6.075), (-11.8, 6.075),
    (-14.1, 5.825), (-13.8, 5.825), (-13.5, 5.825), (-13.2, 5.825), (-12.9, 5.825), (-12.6, 5.825),
    (-12.3, 5.825), (-12.0, 5.825), (-11.7, 5.825),
    (-14.1, 5.575), (-13.8, 5.575), (-13.5, 5.575), (-13.2, 5.575), (-12.9, 5.575), (-12.6, 5.575),
    (-12.3, 5.575), (-12.0, 5.575), (-11.7, 5.575),
    (-13.9, 5.325), (-13.6, 5.325), (-13.3, 5.325), (-13.0, 5.325), (-12.7, 5.325), (-12.4, 5.325),
    (-12.1, 5.325), (-11.8, 5.325), (-11.5, 5.325),
    (-13.5, 5.075), (-13.2, 5.075), (-12.9, 5.075), (-12.6, 5.075), (-12.3, 5.075), (-12.0, 5.075),
    (-11.7, 5.075), (-11.4, 5.075), (-11.1, 5.075),
    (-13.1, 4.825), (-12.8, 4.825), (-12.5, 4.825), (-12.2, 4.825), (-11.9, 4.825), (-11.6, 4.825),
    (-11.3, 4.825), (-11.0, 4.825),
]

# trajectory tree (principal graph)
branch_red = [(2.72, 3.62), (3.42, 3.69), (5.31, 3.49), (7.11, 3.33), (8.91, 3.17),
              (10.71, 3.0), (12.51, 2.72), (14.3, 2.42), (16.2, 1.95), (19.04, 1.06),
              (21.81, 0.22), (24.6, -0.66)]
branch_olive = [(2.72, 3.62), (2.27, 5.66)]
branch_green = [(2.72, 3.62), (1.14, 3.15), (0.2, 2.9), (-0.88, 2.66), (-2.02, 2.41),
                (-3.57, 2.03), (-4.5, 1.73), (-5.65, 1.45)]
branch_pink = [(-5.65, 1.45), (-13.27, 7.35)]
branch_blue = [(-5.65, 1.45), (-5.91, 0.92), (-7.72, -2.04), (-8.8, -3.37),
               (-10.07, -5.61), (-11.49, -7.7)]
branches = [branch_red, branch_olive, branch_green, branch_pink, branch_blue]

node_x = [2.72, -5.65]
node_y = [3.62, 1.45]
node_labels = ["1", "2"]

x_ticks = [-10, 0, 10, 20]
y_ticks = [-15, -10, -5, 0, 5, 10]

table_header = ["", "0", "1", "2", "3", "4"]
table_row_labels = ["1", "2", "3", "4", "5"]
table_values = [
    [0, 348, 49, 657, 29],
    [0, 257, 47, 1, 2],
    [4, 66, 71, 0, 102],
    [787, 3, 55, 0, 210],
    [222, 222, 448, 0, 20],
]

# ------------------------------------------------------------------ frame
all_states = [state1_xy, state2_xy, state3_xy, state4_xy, state5_xy]
rows = []
for lab, pts in zip(state_labels, all_states):
    for x, y in pts:
        rows.append({"Component 1": x, "Component 2": y, "State": lab})
df = pd.DataFrame(rows)

sns.set_theme(style="white")
plt.rcParams["font.family"] = ["Liberation Sans", "DejaVu Sans"]

W, H = 2686, 2737
fig = plt.figure(figsize=(W / 100, H / 100), dpi=100)
fig.patch.set_facecolor("white")

ax_l, ax_r, ax_t, ax_b = 387, 2686, 507, 2597
ax = fig.add_axes([ax_l / W, 1 - ax_b / H, (ax_r - ax_l) / W, (ax_b - ax_t) / H])
ax.set_facecolor("white")

for br in branches:
    bx = [p[0] for p in br]
    by = [p[1] for p in br]
    ax.plot(bx, by, color="#1a1a1a", lw=4.6, zorder=1, solid_capstyle="round")

sns.scatterplot(data=df, x="Component 1", y="Component 2", hue="State",
                hue_order=state_labels, palette=state_colors, s=330,
                linewidth=0, alpha=1.0, legend=False, zorder=2, ax=ax)

ax.scatter(node_x, node_y, s=1550, color="black", zorder=4, linewidths=0)
for nx_, ny_, nl in zip(node_x, node_y, node_labels):
    ax.text(nx_, ny_, nl, color="white", fontsize=28, fontweight="bold",
            ha="center", va="center", zorder=5)

ax.set_xlim(-16.98, 29.32)
ax.set_ylim(-15.09, 11.4)
ax.set_xticks(x_ticks)
ax.set_yticks(y_ticks)
for s in ["top", "right"]:
    ax.spines[s].set_visible(False)
for s in ["left", "bottom"]:
    ax.spines[s].set_color("#9a9a9a")
    ax.spines[s].set_linewidth(4.5)
ax.tick_params(axis="both", which="major", length=7, width=2.5, color="#8a8a8a",
               labelsize=28, labelcolor="#555555", direction="out", bottom=True, left=True)
ax.tick_params(axis="x", pad=12)
ax.tick_params(axis="y", pad=6)
ax.set_xlabel("Component 1", fontsize=38, color="#3a3a3a")
ax.set_ylabel("Component 2", fontsize=38, color="#3a3a3a")
ax.xaxis.set_label_coords(0.5, -0.041)
ax.yaxis.set_label_coords(-0.054, 0.5)
ax.grid(False)

# ------------------------------------------------------------------ table
cell_text = [table_header] + [[r] + [str(v) for v in vals]
                              for r, vals in zip(table_row_labels, table_values)]
t_l, t_r, t_t, t_b = 1003, 2181, 1522, 2448
bbox = [(t_l - ax_l) / (ax_r - ax_l), (ax_b - t_b) / (ax_b - ax_t),
        (t_r - t_l) / (ax_r - ax_l), (t_b - t_t) / (ax_b - ax_t)]
tbl = ax.table(cellText=cell_text, cellLoc="center", bbox=bbox)
tbl.set_zorder(6)
tbl.auto_set_font_size(False)
for (r, c), cell in tbl.get_celld().items():
    cell.set_facecolor("white")
    cell.set_edgecolor("black")
    cell.set_linewidth(3.4)
    txt = cell.get_text()
    txt.set_fontfamily(["Lato", "DejaVu Sans"])
    txt.set_fontsize(73)
    txt.set_color("black")
    txt.set_transform(Affine2D().translate(0, -24))
    if r == 0 or c == 0:
        txt.set_fontweight("bold")

# ------------------------------------------------------------------ legend
handles = [Line2D([], [], marker="o", linestyle="", markersize=12.5,
                  markerfacecolor=c, markeredgewidth=0) for c in state_colors]
fig.text(1056 / W, 1 - 363 / H, "State", fontsize=40, color="#333333",
         ha="left", va="center")
leg_fs = 33
fig.legend(handles, state_labels, loc="center left",
           bbox_to_anchor=(1231 / W, 1 - 363 / H), ncol=5, frameon=False,
           fontsize=leg_fs, numpoints=1, handlelength=1.0, handletextpad=1.1,
           columnspacing=0.98, borderpad=0, borderaxespad=0, labelcolor="#333333")

# ------------------------------------------------------------------ panel letter
fig.text(84 / W, 1 - 186 / H, "E", fontsize=121, color="black", ha="left",
         va="baseline", fontweight="normal", family=["Roboto", "DejaVu Sans"],
         path_effects=[pe.withStroke(linewidth=1.2, foreground="black")])

# ------------------------------------------------------------------ preprint banner
line1_parts = [("bioRxiv preprint doi: ", "black"),
               ("https://doi.org/10.1101/2020.04.03.004523", "blue"),
               ("; this version posted April 4, 2020. The copyright holder for this preprint", "black")]
line2 = "(which was not certified by peer review) is the author/funder. All rights reserved. No reuse allowed without permission."
bfs = 15.4
objs = [fig.text(0, 1 - 668 / H, t, fontsize=bfs, color=c, ha="left", va="center",
                 family=["Liberation Sans", "DejaVu Sans"]) for t, c in line1_parts]
fig.text(726 / W, 1 - 690 / H, line2, fontsize=bfs, color="black", ha="center",
         va="center", family=["Liberation Sans", "DejaVu Sans"])
fig.canvas.draw()
rend = fig.canvas.get_renderer()
widths = [o.get_window_extent(rend).width for o in objs]
x0 = 727 - sum(widths) / 2
for o, w in zip(objs, widths):
    o.set_x(x0 / W)
    x0 += w

fig.savefig("out.png", dpi=100, facecolor="white")
